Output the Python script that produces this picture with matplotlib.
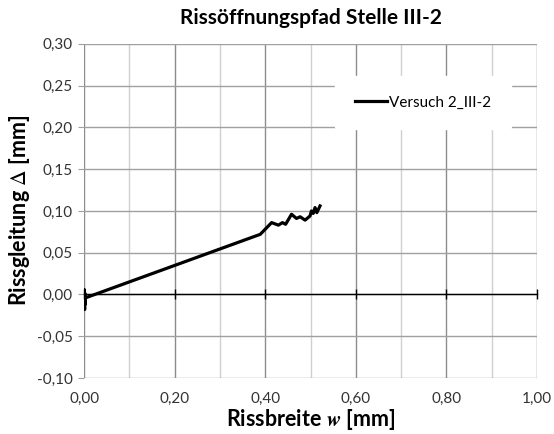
import numpy as np
import matplotlib
matplotlib.use("Agg")
import matplotlib.pyplot as plt
from matplotlib.ticker import MultipleLocator, FuncFormatter

w = [0.000, 0.001, 0.000, 0.002, 0.001, 0.003, 0.389, 0.414, 0.429, 0.438, 0.445,
     0.458, 0.469, 0.477, 0.488, 0.499, 0.502, 0.506, 0.510, 0.514, 0.521]
delta = [0.004, -0.018, 0.006, -0.012, 0.002, -0.004, 0.072, 0.086, 0.083, 0.086, 0.084,
         0.096, 0.091, 0.093, 0.089, 0.094, 0.100, 0.097, 0.104, 0.098, 0.106]
series_name = "Versuch 2_III-2"

plt.rcParams['font.family'] = ['Lato', 'DejaVu Sans']
plt.rcParams['mathtext.fontset'] = 'stix'

fig = plt.figure(figsize=(5.54, 4.34), dpi=100)
ax = fig.add_axes([0.152, 0.129, 0.817, 0.770])

ax.plot(w, delta, color='black', lw=2.3, label=series_name, zorder=3)

ax.set_xlim(0, 1.0)
ax.set_ylim(-0.10, 0.30)
ax.xaxis.set_major_locator(MultipleLocator(0.2))
ax.xaxis.set_minor_locator(MultipleLocator(0.1))
ax.yaxis.set_major_locator(MultipleLocator(0.05))

comma = FuncFormatter(lambda v, p: ("%.2f" % v).replace(".", ","))
ax.xaxis.set_major_formatter(comma)
ax.yaxis.set_major_formatter(comma)

for s in ax.spines.values():
    s.set_visible(False)

ax.grid(True, which='major', axis='x', color='#8c8c8c', lw=1.0)
ax.grid(True, which='minor', axis='x', color='#d0d0d0', lw=1.0)
ax.grid(True, which='major', axis='y', color='#a0a0a0', lw=1.0)
ax.set_axisbelow(True)

ax.tick_params(axis='x', which='both', length=0, pad=10, labelsize=11, colors='#333333')
ax.tick_params(axis='y', which='major', length=4, color='#a0a0a0', pad=4,
               labelsize=11, labelcolor='#333333')

# zero line with crossing ticks (Excel-style axis at y=0)
zero = ax.secondary_xaxis(0.25)
zero.set_zorder(2.5)
zero.spines['bottom'].set_color('black')
zero.spines['bottom'].set_linewidth(1.0)
zero.xaxis.set_major_locator(MultipleLocator(0.2))
zero.tick_params(axis='x', which='major', direction='inout', length=7, width=1.0,
                 color='black', labelbottom=False)
zero.tick_params(axis='x', which='minor', length=0)

ax.set_title("Rissöffnungspfad Stelle III-2", fontsize=15, fontweight='bold', pad=14)
ax.set_xlabel(r"Rissbreite $\mathbfit{w}$ [mm]", fontsize=15.5, fontweight='bold', labelpad=1)
ax.set_ylabel(r"Rissgleitung $\Delta$ [mm]", fontsize=15.5, fontweight='bold', labelpad=4)

leg = ax.legend(loc='upper left', bbox_to_anchor=(0.554, 0.905),
                frameon=True, fontsize=11, handlelength=2.1, handletextpad=0.15,
                borderaxespad=0, borderpad=1.3)
leg.get_frame().set_facecolor('white')
leg.get_frame().set_edgecolor('white')
leg.get_frame().set_alpha(1)
leg.set_zorder(5)

fig.savefig("out.png", dpi=100)
